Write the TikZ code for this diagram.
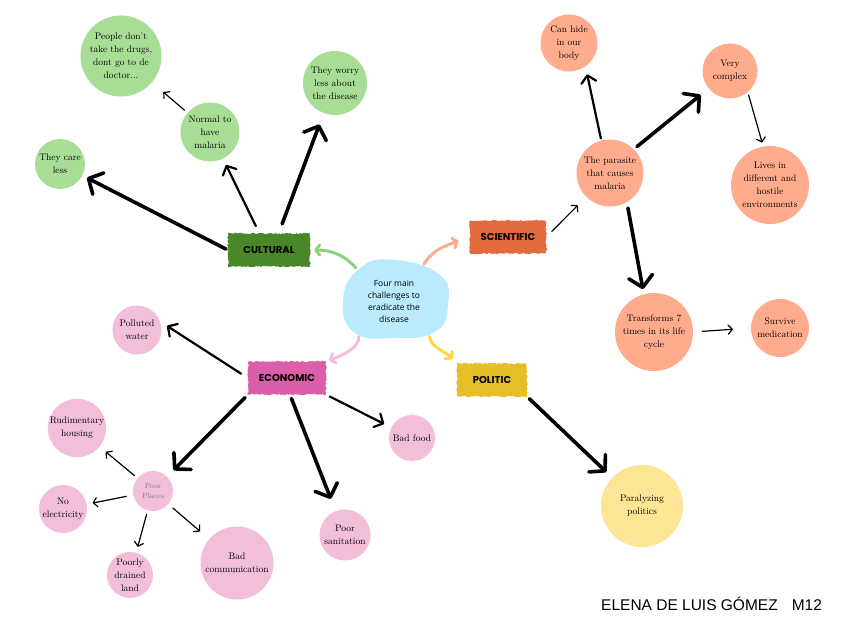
\documentclass[tikz,border=0pt]{standalone}
\usepackage{fontspec}
\usepackage{xcolor}
\usetikzlibrary{arrows.meta,shapes.geometric,decorations.pathmorphing,positioning}
\newfontfamily\tagfont{Poppins}
\newfontfamily\handfont{Open Sans}
\newfontfamily\signfont{Liberation Sans}

\definecolor{leafgreen}{HTML}{A8DD96}
\definecolor{forestgreen}{HTML}{4A8728}
\definecolor{curvegreen}{HTML}{8FD07A}
\definecolor{salmon}{HTML}{FFAC8E}
\definecolor{rust}{HTML}{E26A3C}
\definecolor{rosepink}{HTML}{F2BEDA}
\definecolor{magentapink}{HTML}{DA5EA8}
\definecolor{mustard}{HTML}{E6BE28}
\definecolor{cream}{HTML}{FCE696}
\definecolor{curveyellow}{HTML}{FFD54A}
\definecolor{skyblue}{HTML}{B9EBFC}

\tikzset{
  ball/.style={circle, inner sep=0pt, align=center, font=\fontsize{9.5}{13}\selectfont},
  greenball/.style={ball, fill=leafgreen},
  orangeball/.style={ball, fill=salmon},
  pinkball/.style={ball, fill=rosepink},
  yellowball/.style={ball, fill=cream},
  brush/.style={rectangle, inner sep=0pt, font=\tagfont\bfseries\fontsize{10}{12}\selectfont,
    decorate, decoration={random steps, segment length=1.5pt, amplitude=0.8pt}},
  heavy/.style={line width=3.6pt, line cap=round, -{Straight Barb[length=11pt,width=24pt,round]}},
  medium/.style={line width=2.2pt, line cap=round, -{Straight Barb[length=7pt,width=15pt,round]}},
  light/.style={line width=1.2pt, line cap=round, -{Straight Barb[length=4pt,width=9pt,round]}},
  curvy/.style={line width=3pt, line cap=round, -{Straight Barb[length=4pt,width=10pt,round]}},
}

\begin{document}
\begin{tikzpicture}[x=1pt,y=1pt]
    \useasboundingbox (0,0) rectangle (848,636);

        % Draw centre blob.
        \fill[skyblue] plot[smooth cycle, tension=0.8] coordinates
            {(395,376) (440,361) (448,331) (435,304) (395,298) (355,303) (343,336) (360,368)};
        \node[ellipse, minimum width=105, minimum height=78, align=center,
              font=\handfont\fontsize{8.5}{12}\selectfont] (core) at (394,335)
              {Four main\\challenges to\\eradicate the\\disease};

        % Draw category labels.
        \foreach \n/\x/\y/\w/\c/\t in {cult/269/386/82/forestgreen/CULTURAL,
                sci/508/399/76/rust/SCIENTIFIC, econ/287/258/78/magentapink/ECONOMIC,
                pol/492/256/70/mustard/POLITIC}
            \node[brush, fill=\c, minimum width=\w, minimum height=33] (\n) at (\x,\y) {\t};

        \draw[curvy, curvegreen, shorten <=5pt, shorten >=4pt] (core.140) to[out=130, in=0] (cult.east);
        \draw[curvy, salmon, shorten <=4pt, shorten >=12pt] (core.50) to[out=60, in=200] (sci.west);
        \draw[curvy, rosepink, shorten <=6pt, shorten >=3pt] (core.220) to[out=-90, in=20] (econ.north east);
        \draw[curvy, curveyellow, shorten <=6pt, shorten >=6pt] (core.-40) to[out=-85, in=135] (pol.north west);

        % Draw cultural branch.
        \node[greenball, minimum size=81] (drugs) at (121,580) {People don't\\take the drugs,\\dont go to de\\doctor...};
        \node[greenball, minimum size=64] (worry) at (335,553) {They worry\\less about\\the disease};
        \node[greenball, minimum size=59] (normal) at (210,504) {Normal to\\have\\malaria};
        \node[greenball, minimum size=50] (care) at (60,472) {They care\\less};

        \draw[heavy, shorten <=2pt, shorten >=5pt] (cult.west) -- (care);
        \draw[medium, shorten <=8pt, shorten >=7pt] (cult.120) -- (normal);
        \draw[light, shorten <=4pt, shorten >=15pt] (normal) -- (drugs);
        \draw[heavy, shorten <=10pt, shorten >=12pt] (cult.60) -- (worry);

        % Draw scientific branch.
        \node[orangeball, minimum size=57] (hide) at (569,593) {Can hide\\in our\\body};
        \node[orangeball, minimum size=55] (complex) at (730,565) {Very\\complex};
        \node[orangeball, minimum size=67] (parasite) at (610,463) {The parasite\\that causes\\malaria};
        \node[orangeball, minimum size=78] (lives) at (770,451) {Lives in\\different and\\hostile\\environments};
        \node[orangeball, minimum size=78] (transf) at (654,304) {Transforms 7\\times in its life\\cycle};
        \node[orangeball, minimum size=58] (survive) at (780,308) {Survive\\medication};

        \draw[light, shorten <=8pt, shorten >=12pt] (sci.east) -- (parasite);
        \draw[medium, shorten <=2pt, shorten >=8pt] (parasite.105) -- (hide.-55);
        \draw[heavy, shorten <=4pt, shorten >=10pt] (parasite.45) -- (complex);
        \draw[light, shorten <=3pt, shorten >=4pt] (complex.-50) -- (lives.100);
        \draw[heavy, shorten <=6pt, shorten >=5pt] (parasite.-60) -- (transf.105);
        \draw[light, shorten <=9pt, shorten >=18pt] (transf.east) -- (survive.west);

        % Draw politic branch.
        \node[yellowball, minimum size=82] (paral) at (642,130) {Paralyzing\\politics};
        \draw[heavy, shorten <=3pt, shorten >=8pt] (pol.south east) -- (paral);

        % Draw economic branch.
        \node[pinkball, minimum size=49] (polluted) at (137,306) {Polluted\\water};
        \node[pinkball, minimum size=58] (rudim) at (77,208) {Rudimentary\\housing};
        \node[pinkball, minimum size=40, text=gray, font=\fontsize{7.5}{10.5}\selectfont] (places) at (153,145) {Poor\\Places};
        \node[pinkball, minimum size=48] (noelec) at (63,127) {No\\electricity};
        \node[pinkball, minimum size=46] (drained) at (130,61) {Poorly\\drained\\land};
        \node[pinkball, minimum size=73] (badcomm) at (237,73) {Bad\\communication};
        \node[pinkball, minimum size=51] (sanit) at (345,101) {Poor\\sanitation};
        \node[pinkball, minimum size=46] (food) at (412,198) {Bad food};

        \draw[medium, shorten <=8pt, shorten >=8pt] (econ.west) -- (polluted.20);
        \draw[heavy, shorten <=4pt, shorten >=9pt] (econ.south west) -- (places);
        \draw[heavy, shorten <=4pt, shorten >=13pt] (econ.-80) -- (sanit);
        \draw[medium, shorten <=4pt, shorten >=8pt] (econ.south east) -- (food);
        \draw[light, shorten <=4pt, shorten >=8pt] (places) -- (rudim);
        \draw[light, shorten <=7pt, shorten >=6pt] (places) -- (noelec);
        \draw[light, shorten <=4pt, shorten >=6pt] (places) -- (drained);
        \draw[light, shorten <=6pt, shorten >=12pt] (places) -- (badcomm);

        % Signature.
        \node[anchor=base west, inner sep=0pt, font=\signfont\fontsize{15.5}{18}\selectfont]
            (sign) at (601,25) {ELENA DE LUIS GÓMEZ\hspace{14pt}M12};
\end{tikzpicture}
\end{document}
